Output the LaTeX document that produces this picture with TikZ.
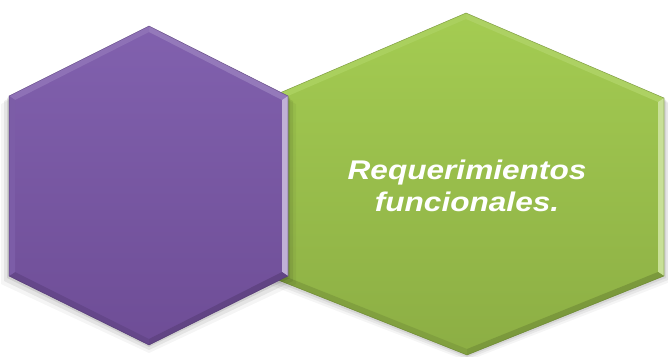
\documentclass[tikz,border=0pt]{standalone}
\usepackage{fontspec}
\newfontfamily\hexfont[FakeStretch=1.17]{Liberation Sans}
\definecolor{pupTop}{HTML}{8161AE}
\definecolor{pupBot}{HTML}{6E4D96}
\definecolor{grnTop}{HTML}{A4CC52}
\definecolor{grnBot}{HTML}{8CAE44}
\tikzset{
  shadowlayer/.style={fill=black,draw=none},
  bevel/.style={draw=none},
  hextext/.style={text=white,align=center,font=\hexfont\bfseries\itshape\fontsize{27}{32}\selectfont}
}
\begin{document}
\begin{tikzpicture}[x=1pt,y=-1pt]
\useasboundingbox (0,0) rectangle (668,356);
% ---------- green hexagon coordinates
\coordinate (gT) at (466,13);
\coordinate (gUR) at (664,98);
\coordinate (gLR) at (664,276);
\coordinate (gB) at (467,355);
\coordinate (gLL) at (268,276);
\coordinate (gUL) at (268,98);
\coordinate (giT) at (466,19);
\coordinate (giUR) at (658,102);
\coordinate (giLR) at (658,272);
\coordinate (giB) at (467,349);
\coordinate (giLL) at (274,272);
\coordinate (giUL) at (274,102);
% ---------- purple hexagon coordinates
\coordinate (pT) at (149,26);
\coordinate (pUR) at (288,96);
\coordinate (pLR) at (288,276);
\coordinate (pB) at (149,345);
\coordinate (pLL) at (9,276);
\coordinate (pUL) at (9,96);
\coordinate (piT) at (149,32);
\coordinate (piUR) at (282,100);
\coordinate (piLR) at (282,272);
\coordinate (piB) at (149,339);
\coordinate (piLL) at (15,272);
\coordinate (piUL) at (15,100);
% ---------- green shadow
\foreach \d/\o in {6/0.04,4/0.06,2/0.08}{
  \fill[shadowlayer,opacity=\o] ([yshift=-\d]gT) -- ([xshift=\d,yshift=-\d]gUR) -- ([xshift=\d,yshift=-\d]gLR) -- ([yshift=-\d]gB) -- ([xshift=-\d,yshift=-\d]gLL) -- ([xshift=-\d,yshift=-\d]gUL) -- cycle;
}
% ---------- green body
\path[top color=grnTop,bottom color=grnBot] (gT) -- (gUR) -- (gLR) -- (gB) -- (gLL) -- (gUL) -- cycle;
\fill[bevel,fill=grnTop!90!white] (gT) -- (gUR) -- (giUR) -- (giT) -- cycle;
\fill[bevel,fill=grnTop!93!white] (gT) -- (gUL) -- (giUL) -- (giT) -- cycle;
\fill[bevel,fill=grnTop!60!white] (gUR) -- (gLR) -- (giLR) -- (giUR) -- cycle;
\fill[bevel,fill=grnBot!88!black] (gLR) -- (gB) -- (giB) -- (giLR) -- cycle;
\fill[bevel,fill=grnBot!92!black] (gB) -- (gLL) -- (giLL) -- (giB) -- cycle;
\draw[grnBot!70!black,line width=0.6pt,opacity=0.5] (gT) -- (gUR) -- (gLR) -- (gB) -- (gLL) -- (gUL) -- cycle;
% ---------- purple shadow
\foreach \d/\o in {8/0.04,5/0.07,2/0.09}{
  \fill[shadowlayer,opacity=\o] ([yshift=-\d]pT) -- ([xshift=\d,yshift=-\d]pUR) -- ([xshift=\d,yshift=-\d]pLR) -- ([yshift=-\d]pB) -- ([xshift=-\d,yshift=-\d]pLL) -- ([xshift=-\d,yshift=-\d]pUL) -- cycle;
}
% ---------- purple body
\path[top color=pupTop,bottom color=pupBot] (pT) -- (pUR) -- (pLR) -- (pB) -- (pLL) -- (pUL) -- cycle;
\fill[bevel,fill=pupTop!85!white] (pT) -- (pUR) -- (piUR) -- (piT) -- cycle;
\fill[bevel,fill=pupTop!90!white] (pT) -- (pUL) -- (piUL) -- (piT) -- cycle;
\fill[bevel,fill=pupTop!50!white] (pUR) -- (pLR) -- (piLR) -- (piUR) -- cycle;
\fill[bevel,fill=pupBot!88!black] (pLR) -- (pB) -- (piB) -- (piLR) -- cycle;
\fill[bevel,fill=pupBot!92!black] (pB) -- (pLL) -- (piLL) -- (piB) -- cycle;
\fill[bevel,fill=pupTop!96!black] (pUL) -- (pLL) -- (piLL) -- (piUL) -- cycle;
\draw[pupBot!70!black,line width=0.6pt,opacity=0.5] (pT) -- (pUR) -- (pLR) -- (pB) -- (pLL) -- (pUL) -- cycle;
% ---------- label
\node[hextext] (req) at (467,186) {Requerimientos\\funcionales.};
\end{tikzpicture}
\end{document}
